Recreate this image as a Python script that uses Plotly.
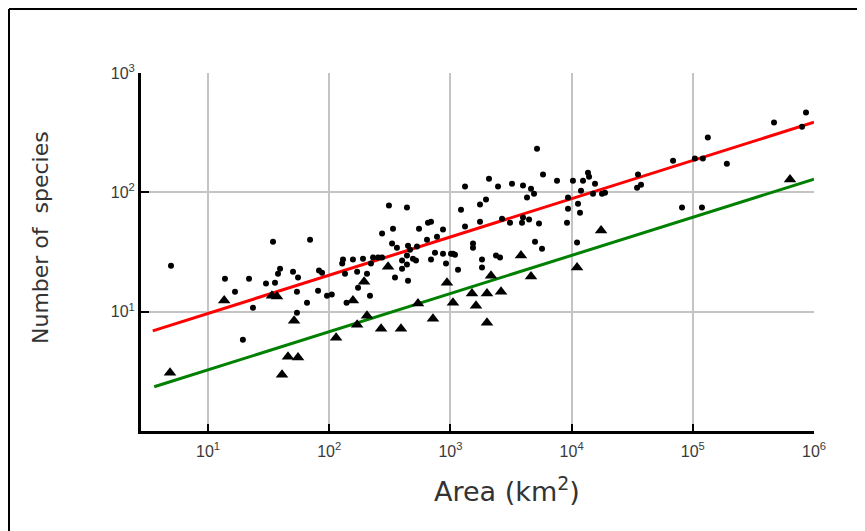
import plotly.graph_objects as go
import math

# Species-area data (areas in km^2, number of species)
dot_area = [4.95, 13.8, 21.8, 39.3, 37.8, 50.3, 55.3, 30.1, 35.7, 16.7, 54.2, 80.9, 82.4, 87.3,
            95.9, 105, 65.6, 23.5, 54.2, 19.4, 139, 34.4, 69.5,
            5185, 5808, 7580, 10260, 12420, 13650, 13930, 15600, 11960, 15020, 17820, 18870,
            9340, 11300, 9340, 11730, 9160, 11090, 3222, 3972, 4624, 4285, 4898, 2471, 2081,
            1320, 1967, 1755, 1223, 2667, 3972, 4456, 3898, 3103, 5383, 1755, 1320, 4990, 5700,
            1536, 1536, 2377, 2566, 1823, 1823, 1156, 1050, 1091, 1012, 869, 920, 746, 869, 775,
            641, 692, 653, 551, 530, 447, 438, 311, 336, 273, 330, 362, 438, 399, 438, 399, 491,
            520, 692, 464, 349, 447, 273, 253, 230, 190, 221, 157, 130, 128, 135, 170, 205, 173,
            217, 859000, 468000, 796000, 133000, 68700, 104000, 121000, 191000, 35300, 37400,
            34700, 81500, 119000]
dot_species = [24.3, 18.9, 18.9, 22.9, 20.8, 21.6, 19.3, 17.2, 17.5, 14.7, 14.7, 15.0, 22.1, 21.2,
               13.6, 13.9, 11.9, 10.8, 9.8, 5.82, 11.9, 38.6, 40.1,
               232, 141, 125, 125, 125, 146, 135, 118, 103, 97.5, 97.5, 99.4,
               90.3, 80.4, 73.0, 67.6, 55.7, 37.9, 118, 114, 107, 90.3, 97.5, 112, 130,
               112, 86.9, 78.9, 71.6, 60.2, 61.4, 59.1, 55.7, 55.7, 54.7, 56.8, 51.6, 38.6, 33.7,
               37.2, 34.4, 29.5, 28.4, 27.3, 23.4, 22.5, 30.6, 30.0, 30.6, 30.6, 25.3, 31.2, 48.7, 42.5,
               40.1, 56.8, 55.7, 49.6, 35.1, 35.7, 74.5, 77.4, 49.6, 45.1, 37.2, 34.4, 29.5, 26.8, 24.8, 22.9, 27.8,
               26.8, 27.3, 33.1, 19.3, 18.2, 28.4, 28.4, 28.4, 27.8, 25.3, 27.3, 27.3, 25.3, 20.8, 21.6, 20.8, 15.9,
               13.6, 466, 384, 355, 288, 184, 192, 192, 174, 141, 116,
               109, 74.5, 74.5]

tri_area = [4.86, 13.6, 33.7, 37.1, 51.3, 114, 45.7, 55.3, 40.8, 17500, 3821, 11090, 4624, 2163,
            2617, 2004, 1507, 1626, 1050, 2004, 937, 718, 540, 391, 268, 205, 170, 157, 194, 306,
            634000]
tri_species = [3.08, 12.4, 13.6, 13.4, 8.41, 6.05, 4.20, 4.12, 2.96, 47.8, 29.5, 23.4, 19.7, 20.0,
               14.7, 14.2, 14.2, 11.2, 11.9, 8.09, 17.5, 8.74, 11.7, 7.20, 7.20, 9.26, 7.78, 12.4, 17.8, 23.8,
               128]

# Fitted lines (end points)
red_area = [3.5, 1e6]
red_species = [6.9, 387]
green_area = [3.6, 1e6]
green_species = [2.35, 129]

x_ticks = [10, 100, 1000, 10000, 100000, 1000000]
x_ticktext = ["10<sup>1</sup>", "10<sup>2</sup>", "10<sup>3</sup>", "10<sup>4</sup>",
              "10<sup>5</sup>", "10<sup>6</sup>"]
y_ticks = [10, 100, 1000]
y_ticktext = ["10<sup>1</sup>", "10<sup>2</sup>", "10<sup>3</sup>"]

fig = go.Figure()
fig.add_trace(go.Scatter(x=red_area, y=red_species, mode="lines",
                         line=dict(color="#ff0000", width=3), hoverinfo="skip"))
fig.add_trace(go.Scatter(x=green_area, y=green_species, mode="lines",
                         line=dict(color="#008000", width=3), hoverinfo="skip"))
fig.add_trace(go.Scatter(x=dot_area, y=dot_species, mode="markers",
                         marker=dict(symbol="circle", size=6, color="black")))
fig.add_trace(go.Scatter(x=tri_area, y=tri_species, mode="markers",
                         marker=dict(symbol="triangle-up", size=11, color="black")))

# The page body adds an 8px offset, so the figure is slightly smaller than the window
OFF = 8
ml, mr, mt, mb = 133, 51, 65, 100
pw, ph = 673, 358
W, H = ml + pw + mr, mt + ph + mb

def px2paper_x(px):
    return (px - OFF - ml) / pw

def py2paper_y(py):
    return (OFF + mt + ph - py) / ph

fig.update_layout(
    width=W, height=H,
    margin=dict(l=ml, r=mr, t=mt, b=mb),
    paper_bgcolor="white", plot_bgcolor="white",
    showlegend=False,
    font=dict(family="Liberation Sans, Arial, sans-serif", color="#333333"),
    xaxis=dict(type="log", range=[math.log10(2.8), 6],
               tickvals=x_ticks, ticktext=x_ticktext,
               tickfont=dict(size=16, color="#3a3a3a"),
               ticklabelstandoff=4,
               showgrid=True, gridcolor="#c4c4c4", gridwidth=2,
               showline=True, linecolor="black", linewidth=3,
               ticks="inside", ticklen=7, tickwidth=2, tickcolor="black",
               zeroline=False),
    yaxis=dict(type="log", range=[0, 3],
               tickvals=y_ticks, ticktext=y_ticktext,
               tickfont=dict(size=16, color="#3a3a3a"),
               showgrid=True, gridcolor="#c4c4c4", gridwidth=2,
               showline=True, linecolor="black", linewidth=3,
               ticks="inside", ticklen=8, tickwidth=2, tickcolor="black",
               zeroline=False),
    annotations=[
        dict(text="Area (km<sup>2</sup>)", xref="paper", yref="paper",
             x=px2paper_x(507), y=py2paper_y(490), xanchor="center", yanchor="middle",
             showarrow=False, font=dict(family="DejaVu Sans", size=27, color="#333333")),
        dict(text="Number of  species", xref="paper", yref="paper",
             x=px2paper_x(40), y=py2paper_y(238), xanchor="center", yanchor="middle",
             textangle=-90, showarrow=False,
             font=dict(family="DejaVu Sans", size=22, color="#333333")),
    ],
    shapes=[
        dict(type="line", xref="paper", yref="paper",
             x0=px2paper_x(9), x1=px2paper_x(866), y0=py2paper_y(9), y1=py2paper_y(9),
             line=dict(color="black", width=2)),
        dict(type="line", xref="paper", yref="paper",
             x0=px2paper_x(9), x1=px2paper_x(9), y0=py2paper_y(9), y1=py2paper_y(532),
             line=dict(color="black", width=2)),
    ],
)

fig.write_html("out.html")
